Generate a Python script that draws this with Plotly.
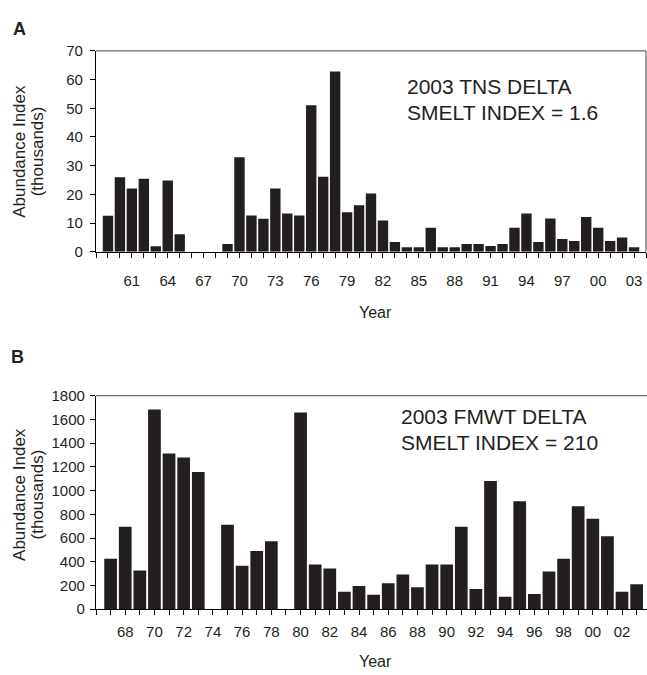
import plotly.graph_objects as go

# ---- Data ----
years_a = list(range(1959, 2004))
tns_index = [12.5, 26, 22, 25.4, 1.9, 24.8, 6.1, 0, 0, 0, 2.7, 32.9, 12.6, 11.5, 22,
             13.3, 12.6, 51.1, 26.1, 62.8, 13.8, 16.2, 20.3, 10.9, 3.4, 1.6, 1.6, 8.4,
             1.6, 1.6, 2.7, 2.7, 2.0, 2.7, 8.4, 13.3, 3.4, 11.6, 4.4, 3.7, 12.1, 8.4,
             3.7, 5.0, 1.6]
tick_years_a = [1961, 1964, 1967, 1970, 1973, 1976, 1979, 1982, 1985, 1988, 1991,
                1994, 1997, 2000, 2003]
tick_labels_a = ["61", "64", "67", "70", "73", "76", "79", "82", "85", "88", "91",
                 "94", "97", "00", "03"]

years_b = list(range(1967, 2004))
fmwt_index = [425, 696, 326, 1683, 1313, 1280, 1157, 0, 713, 367, 491, 573, 0, 1658,
              376, 343, 148, 195, 121, 219, 293, 184, 376, 376, 696, 170, 1080, 104,
              910, 129, 318, 425, 869, 762, 614, 148, 210]
tick_years_b = [1968, 1970, 1972, 1974, 1976, 1978, 1980, 1982, 1984, 1986, 1988,
                1990, 1992, 1994, 1996, 1998, 2000, 2002]
tick_labels_b = ["68", "70", "72", "74", "76", "78", "80", "82", "84", "86", "88",
                 "90", "92", "94", "96", "98", "00", "02"]

W, H = 647, 675
BAR = "#231f20"
TXT = "#231f20"
FONT = "Liberation Sans, Arial, sans-serif"

def px(x):
    return x / W

def py(y):
    return 1 - y / H

fig = go.Figure()
fig.add_trace(go.Bar(x=years_a, y=tns_index, marker=dict(color=BAR, line=dict(width=0)),
                     xaxis="x", yaxis="y", showlegend=False))
fig.add_trace(go.Bar(x=years_b, y=fmwt_index, marker=dict(color=BAR, line=dict(width=0)),
                     xaxis="x2", yaxis="y2", showlegend=False))

tickfont = dict(family=FONT, size=15, color=TXT)
common_x = dict(showgrid=False, zeroline=False, showline=True, linecolor="#000",
                linewidth=1.3, ticks="outside", ticklen=5, tickcolor="#000",
                tickfont=tickfont, fixedrange=True)
common_y = dict(showgrid=False, zeroline=False, showline=True, linecolor="#000",
                linewidth=1.3, ticks="outside", ticklen=5, tickcolor="#000",
                tickfont=tickfont, fixedrange=True)

xa0, xa1 = 96, 646
ya_top, ya_bot = 43, 249
xb0 = 96
yb_top, yb_bot = 396.7, 615.7

fig.update_layout(
    width=W, height=H,
    margin=dict(l=0, r=0, t=0, b=0),
    paper_bgcolor="white", plot_bgcolor="white",
    bargap=0.13,
    font=dict(family=FONT, color=TXT),
    xaxis=dict(common_x, domain=[px(xa0), px(xa1)], range=[1958, 2004], anchor="y",
               tickmode="array", tickvals=tick_years_a, ticktext=tick_labels_a,
               ticklabelstandoff=10,
               minor=dict(ticks="outside", ticklen=5, tickcolor="#000", dtick=1,
                          tick0=1958, showgrid=False)),
    yaxis=dict(common_y, domain=[py(ya_bot), py(ya_top)], range=[0, 70], dtick=10,
               anchor="x", ticklabelstandoff=4),
    xaxis2=dict(common_x, domain=[px(xb0), 1.0], range=[1966, 2003.71], anchor="y2",
                tickmode="array", tickvals=tick_years_b, ticktext=tick_labels_b,
                ticklabelstandoff=4,
                minor=dict(ticks="outside", ticklen=5, tickcolor="#000", dtick=1,
                           tick0=1966, showgrid=False)),
    yaxis2=dict(common_y, domain=[py(yb_bot), py(yb_top)], range=[0, 1800], dtick=200,
                anchor="x2", ticklabelstandoff=2),
)

# frame lines (top and right)
fig.add_shape(type="line", xref="paper", yref="paper", x0=px(xa0), x1=px(xa1),
              y0=py(ya_top), y1=py(ya_top), line=dict(color="#6d6d6d", width=1.3))
fig.add_shape(type="line", xref="paper", yref="paper", x0=px(xa1), x1=px(xa1),
              y0=py(ya_top), y1=py(ya_bot), line=dict(color="#6d6d6d", width=1.3))
fig.add_shape(type="line", xref="paper", yref="paper", x0=px(xb0), x1=1.0,
              y0=py(yb_top), y1=py(yb_top), line=dict(color="#6d6d6d", width=1.3))

def ann(text, x, y, size, xanchor="center", angle=0, bold=False):
    t = f"<b>{text}</b>" if bold else text
    fig.add_annotation(text=t, xref="paper", yref="paper", x=px(x), y=py(y),
                       xanchor=xanchor, yanchor="middle", showarrow=False,
                       textangle=angle, font=dict(family=FONT, size=size, color=TXT))

# panel letters
ann("A", 19, 20.5, 18, bold=True)
ann("B", 17.5, 357, 18, bold=True)

# y titles
ann("Abundance Index", 19.5, 146, 17, angle=-90)
ann("(thousands)", 37, 146, 17, angle=-90)
ann("Abundance Index", 19.5, 498, 17, angle=-90)
ann("(thousands)", 37, 498, 17, angle=-90)

# x titles
ann("Year", 375, 311, 16)
ann("Year", 375, 669, 16)

# in-plot text
ann("2003 TNS DELTA", 405, 79, 21, xanchor="left")
ann("SMELT INDEX = 1.6", 405, 106, 21, xanchor="left")
ann("2003 FMWT DELTA", 399, 418, 21, xanchor="left")
ann("SMELT INDEX = 210", 399, 444.5, 21, xanchor="left")

fig.write_html("out.html")
